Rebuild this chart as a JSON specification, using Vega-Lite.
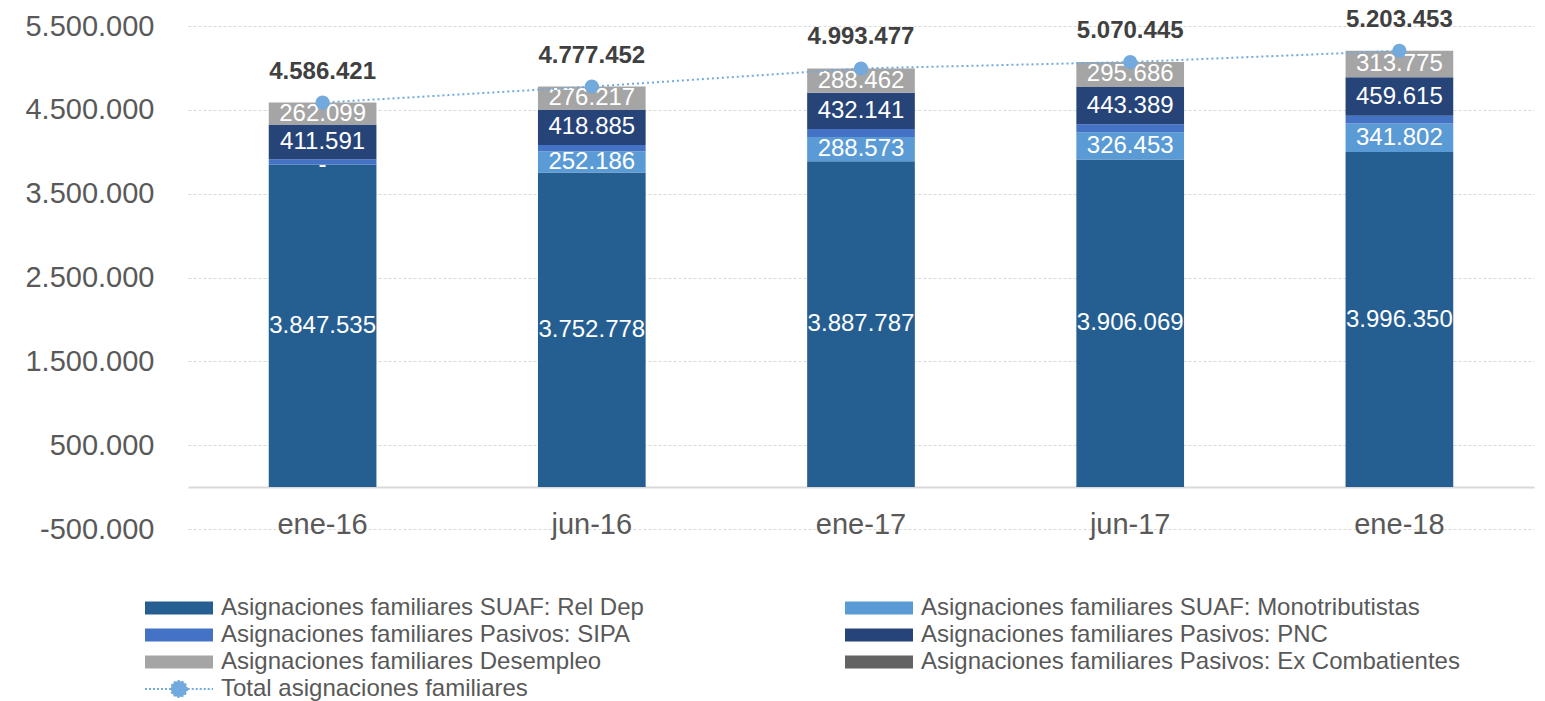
{
  "$schema": "https://vega.github.io/schema/vega-lite/v6.json",
  "width": 1346,
  "height": 503,
  "autosize": {"type": "none"},
  "padding": {"left": 188, "top": 26, "right": 11, "bottom": 172},
  "background": "white",
  "config": {
    "font": "Liberation Sans",
    "view": {"stroke": null},
    "locale": {"number": {"decimal": ",", "thousands": ".", "grouping": [3], "currency": ["$", ""], "minus": "-"}}
  },
  "datasets": {
    "seg": [
      {"date": "ene-16", "series": "Asignaciones familiares SUAF: Rel Dep", "value": 3847535},
      {"date": "ene-16", "series": "Asignaciones familiares SUAF: Monotributistas", "value": 0},
      {"date": "ene-16", "series": "Asignaciones familiares Pasivos: SIPA", "value": 63196},
      {"date": "ene-16", "series": "Asignaciones familiares Pasivos: PNC", "value": 411591},
      {"date": "ene-16", "series": "Asignaciones familiares Desempleo", "value": 262099},
      {"date": "ene-16", "series": "Asignaciones familiares Pasivos: Ex Combatientes", "value": 2000},
      {"date": "jun-16", "series": "Asignaciones familiares SUAF: Rel Dep", "value": 3752778},
      {"date": "jun-16", "series": "Asignaciones familiares SUAF: Monotributistas", "value": 252186},
      {"date": "jun-16", "series": "Asignaciones familiares Pasivos: SIPA", "value": 75386},
      {"date": "jun-16", "series": "Asignaciones familiares Pasivos: PNC", "value": 418885},
      {"date": "jun-16", "series": "Asignaciones familiares Desempleo", "value": 276217},
      {"date": "jun-16", "series": "Asignaciones familiares Pasivos: Ex Combatientes", "value": 2000},
      {"date": "ene-17", "series": "Asignaciones familiares SUAF: Rel Dep", "value": 3887787},
      {"date": "ene-17", "series": "Asignaciones familiares SUAF: Monotributistas", "value": 288573},
      {"date": "ene-17", "series": "Asignaciones familiares Pasivos: SIPA", "value": 94514},
      {"date": "ene-17", "series": "Asignaciones familiares Pasivos: PNC", "value": 432141},
      {"date": "ene-17", "series": "Asignaciones familiares Desempleo", "value": 288462},
      {"date": "ene-17", "series": "Asignaciones familiares Pasivos: Ex Combatientes", "value": 2000},
      {"date": "jun-17", "series": "Asignaciones familiares SUAF: Rel Dep", "value": 3906069},
      {"date": "jun-17", "series": "Asignaciones familiares SUAF: Monotributistas", "value": 326453},
      {"date": "jun-17", "series": "Asignaciones familiares Pasivos: SIPA", "value": 96848},
      {"date": "jun-17", "series": "Asignaciones familiares Pasivos: PNC", "value": 443389},
      {"date": "jun-17", "series": "Asignaciones familiares Desempleo", "value": 295686},
      {"date": "jun-17", "series": "Asignaciones familiares Pasivos: Ex Combatientes", "value": 2000},
      {"date": "ene-18", "series": "Asignaciones familiares SUAF: Rel Dep", "value": 3996350},
      {"date": "ene-18", "series": "Asignaciones familiares SUAF: Monotributistas", "value": 341802},
      {"date": "ene-18", "series": "Asignaciones familiares Pasivos: SIPA", "value": 89911},
      {"date": "ene-18", "series": "Asignaciones familiares Pasivos: PNC", "value": 459615},
      {"date": "ene-18", "series": "Asignaciones familiares Desempleo", "value": 313775},
      {"date": "ene-18", "series": "Asignaciones familiares Pasivos: Ex Combatientes", "value": 2000}
    ],
    "tot": [
      {"date": "ene-16", "total": 4586421},
      {"date": "jun-16", "total": 4777452},
      {"date": "ene-17", "total": 4993477},
      {"date": "jun-17", "total": 5070445},
      {"date": "ene-18", "total": 5203453}
    ]
  },
  "encoding": {
    "x": {
      "field": "date", "type": "nominal",
      "sort": ["ene-16", "jun-16", "ene-17", "jun-17", "ene-18"],
      "scale": {"paddingInner": 0.6, "paddingOuter": 0.3},
      "axis": {
        "title": null, "labelAngle": 0, "ticks": false, "tickSize": 0, "offset": -42,
        "domainColor": "#D9D9D9", "domainWidth": 2, "grid": false,
        "labelFontSize": 29, "labelColor": "#595959", "labelPadding": 23
      }
    }
  },
  "layer": [
    {
      "data": {"name": "seg"},
      "mark": {"type": "bar"},
      "encoding": {
        "y": {
          "field": "value", "type": "quantitative", "stack": "zero",
          "scale": {"domain": [-500000, 5500000], "nice": false, "zero": false},
          "axis": {
            "title": null, "values": [-500000, 500000, 1500000, 2500000, 3500000, 4500000, 5500000],
            "format": ",d", "domain": false, "ticks": false, "tickSize": 0,
            "labelFontSize": 29, "labelColor": "#595959", "labelPadding": 34,
            "gridColor": "#D9D9D9", "gridDash": [3, 2], "gridWidth": 1
          }
        },
        "color": {
          "field": "series", "type": "nominal",
          "scale": {
            "domain": [
              "Asignaciones familiares SUAF: Rel Dep",
              "Asignaciones familiares Pasivos: SIPA",
              "Asignaciones familiares Desempleo",
              "Total asignaciones familiares",
              "Asignaciones familiares SUAF: Monotributistas",
              "Asignaciones familiares Pasivos: PNC",
              "Asignaciones familiares Pasivos: Ex Combatientes"
            ],
            "range": ["#255E91", "#4472C4", "#A5A5A5", "#72AADD", "#5B9BD5", "#264478", "#636363"]
          },
          "legend": {
            "title": null, "orient": "none", "legendX": -48, "legendY": 570,
            "columns": 2, "columnPadding": 196, "rowPadding": 3,
            "symbolSize": 196, "labelFontSize": 24, "labelColor": "#595959",
            "labelOffset": 57, "labelLimit": 0, "labelBaseline": "middle",
            "encode": {
              "symbols": {
                "update": {
                  "shape": {"signal": "datum.label === 'Total asignaciones familiares' ? 'M-1,0H2.6M5.1,0H8.714M4.997,0A1.14,1.14,0,1,1,2.717,0A1.14,1.14,0,1,1,4.997,0Z' : 'M-1,-0.93H8.714V0.93H-1Z'"},
                  "fill": {"scale": "color", "field": "value"},
                  "stroke": {"scale": "color", "field": "value"},
                  "strokeWidth": {"signal": "datum.label === 'Total asignaciones familiares' ? 2 : 0"},
                  "strokeDash": {"signal": "datum.label === 'Total asignaciones familiares' ? [2, 2] : [1, 0]"},
                  "opacity": {"value": 1},
                  "fillOpacity": {"value": 1}
                }
              }
            }
          }
        },
        "order": {"field": "series", "sort": "descending"}
      }
    },
    {
      "data": {"name": "seg"},
      "transform": [
        {"stack": "value", "groupby": ["date"], "sort": [{"field": "series", "order": "descending"}], "as": ["y0", "y1"]},
        {"calculate": "(datum.y0 + datum.y1) / 2", "as": "ymid"}
      ],
      "mark": {"type": "text", "color": "white", "fontSize": 24, "baseline": "middle", "align": "center"},
      "encoding": {
        "y": {"field": "ymid", "type": "quantitative"},
        "text": {
          "condition": [
            {"test": "datum.series === 'Asignaciones familiares Pasivos: SIPA' || datum.series === 'Asignaciones familiares Pasivos: Ex Combatientes'", "value": ""},
            {"test": "datum.value === 0", "value": "-"}
          ],
          "field": "value", "type": "quantitative", "format": ",d"
        }
      }
    },
    {
      "data": {"name": "tot"},
      "mark": {"type": "line", "strokeDash": [2, 3], "strokeWidth": 2},
      "encoding": {
        "y": {"field": "total", "type": "quantitative"},
        "color": {"datum": "Total asignaciones familiares"}
      }
    },
    {
      "data": {"name": "tot"},
      "mark": {"type": "point", "filled": true, "size": 200, "opacity": 1},
      "encoding": {
        "y": {"field": "total", "type": "quantitative"},
        "color": {"datum": "Total asignaciones familiares"}
      }
    },
    {
      "data": {"name": "tot"},
      "mark": {"type": "text", "fontSize": 24, "fontWeight": "bold", "color": "#404040", "dy": -31, "baseline": "middle"},
      "encoding": {
        "y": {"field": "total", "type": "quantitative"},
        "text": {"field": "total", "type": "quantitative", "format": ",d"}
      }
    }
  ]
}
